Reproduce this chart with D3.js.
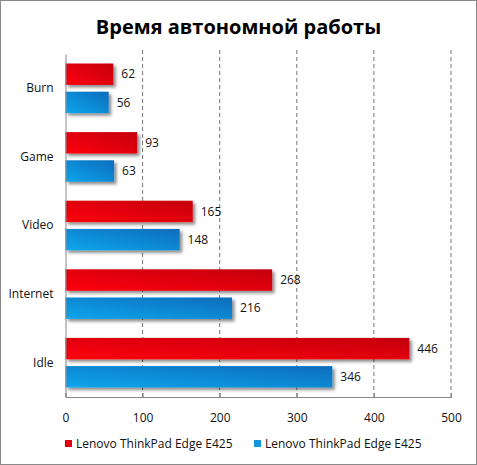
<!DOCTYPE html>
<html>
<head>
<meta charset="utf-8">
<script src="https://cdn.jsdelivr.net/npm/d3@7"></script>
<style>
  html, body { margin: 0; padding: 0; background: #fff; }
  svg { display: block; }
  text { font-family: "Open Sans", "DejaVu Sans", sans-serif; fill: #111; }
</style>
</head>
<body>
<div id="chart"></div>
<script>
const WIDTH = 477;
const HEIGHT = 465;

// === DATA ===
const categories = ["Burn", "Game", "Video", "Internet", "Idle"];
const seriesNames = ["Lenovo ThinkPad Edge E425", "Lenovo ThinkPad Edge E425"];
const redValues = [62, 93, 165, 268, 446];
const blueValues = [56, 63, 148, 216, 346];
const xTicks = [0, 100, 200, 300, 400, 500];
const title = "Время автономной работы";

const margin = { top: 54, right: 26, bottom: 68, left: 65.5 };
const plotW = WIDTH - margin.left - margin.right;
const plotH = HEIGHT - margin.top - margin.bottom;

const svg = d3.select("#chart")
    .append("svg")
    .attr("width", WIDTH)
    .attr("height", HEIGHT);

// frame
svg.append("rect")
    .attr("x", 0.5).attr("y", 0.5)
    .attr("width", WIDTH - 1).attr("height", HEIGHT - 1)
    .attr("fill", "#fff")
    .attr("stroke", "#8a8a8a");

const defs = svg.append("defs");

const shadow = defs.append("filter")
    .attr("id", "shadow")
    .attr("x", "-10%").attr("y", "-30%")
    .attr("width", "130%").attr("height", "180%");
shadow.append("feDropShadow")
    .attr("dx", 2.5).attr("dy", 2.5)
    .attr("stdDeviation", 1.6)
    .attr("flood-color", "#000")
    .attr("flood-opacity", 0.45);

function gradient(id, c1, c2) {
    const g = defs.append("linearGradient")
        .attr("id", id)
        .attr("x1", "0%").attr("y1", "100%")
        .attr("x2", "100%").attr("y2", "0%");
    g.append("stop").attr("offset", "0%").attr("stop-color", c1);
    g.append("stop").attr("offset", "100%").attr("stop-color", c2);
}
gradient("gradRed", "#ff0010", "#c4000f");
gradient("gradBlue", "#12a6ec", "#0a6cbc");

const colors = ["url(#gradRed)", "url(#gradBlue)"];
const legendColors = ["#e00010", "#1296dc"];

// title
svg.append("text")
    .attr("x", WIDTH / 2)
    .attr("y", 34)
    .attr("text-anchor", "middle")
    .style("font-size", "20px")
    .style("font-weight", "bold")
    .style("fill", "#000")
    .text(title);

const g = svg.append("g")
    .attr("transform", `translate(${margin.left},${margin.top})`);

// scales
const x = d3.scaleLinear().domain([0, 500]).range([0, plotW]);
const y0 = d3.scaleBand().domain(categories).range([0, plotH]);
const y1 = d3.scaleBand()
    .domain([0, 1])
    .range([9.5, y0.bandwidth() - 9.5])
    .paddingInner(0.24);

// gridlines
g.append("g")
    .selectAll("line")
    .data(xTicks.slice(1))
    .enter()
    .append("line")
    .attr("x1", d => x(d)).attr("x2", d => x(d))
    .attr("y1", -4).attr("y2", plotH)
    .attr("stroke", "#777")
    .attr("stroke-dasharray", "4,3");

// bars
const rows = categories.map((c, i) => ({ cat: c, vals: [redValues[i], blueValues[i]] }));

const groups = g.selectAll(".cat")
    .data(rows)
    .enter()
    .append("g")
    .attr("class", "cat")
    .attr("transform", d => `translate(0,${y0(d.cat)})`);

groups.selectAll("rect")
    .data(d => d.vals.map((v, s) => ({ v, s })))
    .enter()
    .append("rect")
    .attr("x", 0)
    .attr("y", d => y1(d.s))
    .attr("width", d => x(d.v))
    .attr("height", y1.bandwidth())
    .attr("fill", d => colors[d.s])
    .attr("filter", "url(#shadow)");

groups.selectAll(".val")
    .data(d => d.vals.map((v, s) => ({ v, s })))
    .enter()
    .append("text")
    .attr("class", "val")
    .attr("x", d => x(d.v) + 8)
    .attr("y", d => y1(d.s) + y1.bandwidth() / 2)
    .attr("dy", "0.35em")
    .style("font-size", "12px")
    .text(d => d.v);

// y axis (category labels)
const yAxis = g.append("g")
    .call(d3.axisLeft(y0).tickSize(0).tickPadding(12));
yAxis.select(".domain").attr("stroke", "#888");
yAxis.selectAll("text")
    .style("font-size", "12px")
    .style("font-family", "'Open Sans', 'DejaVu Sans', sans-serif")
    .attr("fill", "#111");

// x axis
const xAxis = g.append("g")
    .attr("transform", `translate(0,${plotH})`)
    .call(d3.axisBottom(x).tickValues(xTicks).tickSize(-4).tickPadding(16));
xAxis.select(".domain").attr("stroke", "#888");
xAxis.selectAll(".tick line").attr("stroke", "#888");
xAxis.selectAll("text")
    .style("font-size", "12px")
    .style("font-family", "'Open Sans', 'DejaVu Sans', sans-serif")
    .attr("fill", "#111");

// legend
const legendX = [65, 254];
const legend = svg.selectAll(".legend")
    .data(seriesNames)
    .enter()
    .append("g")
    .attr("class", "legend")
    .attr("transform", (d, i) => `translate(${legendX[i]},444)`);

legend.append("rect")
    .attr("x", 0).attr("y", -4)
    .attr("width", 7).attr("height", 7)
    .attr("fill", (d, i) => legendColors[i]);

legend.append("text")
    .attr("x", 11)
    .attr("dy", "0.35em")
    .style("font-size", "12px")
    .text(d => d);
</script>
</body>
</html>
